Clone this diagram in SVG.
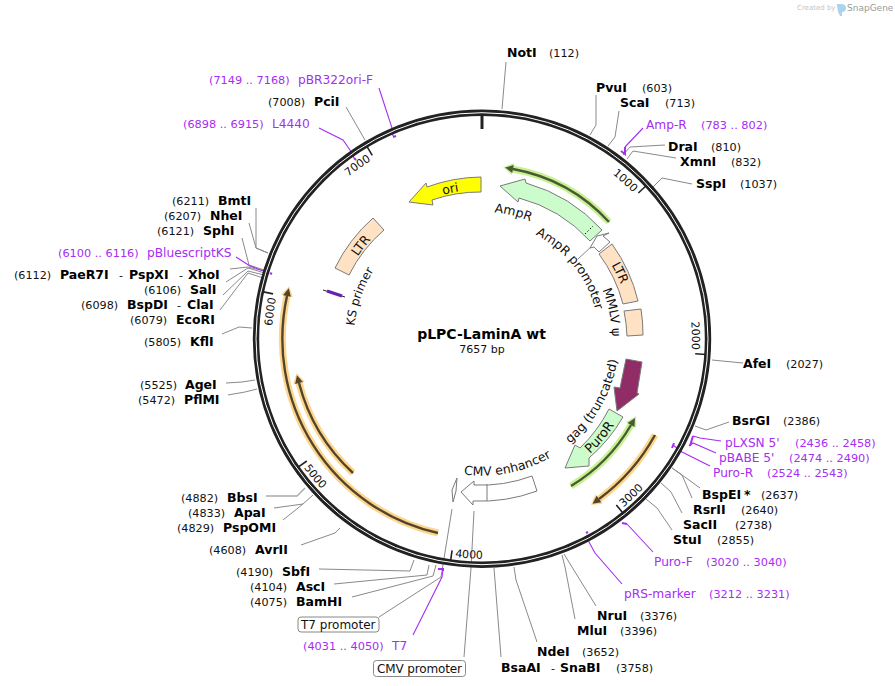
<svg xmlns="http://www.w3.org/2000/svg" width="895" height="686" viewBox="0 0 895 686">
<style>
text{font-family:"DejaVu Sans",Verdana,sans-serif;fill:#111;font-size:11.2px}
.b{font-weight:bold;font-size:12.5px;fill:#000}
.v{fill:#a62df2;font-size:11.3px}
.vn{fill:#a62df2;font-size:12.2px}
.f{font-size:12.5px}
.k{font-size:12px}
.t{font-size:11px}
.l{fill:none;stroke:#8a8a8a;stroke-width:1}
.p{fill:none;stroke:#a62df2;stroke-width:1.1}
.pb{fill:none;stroke:#a62df2;stroke-width:2}
.s{stroke:#7a7a7a;stroke-width:1}
.tk{stroke:#222;stroke-width:1.6}
.hg{fill:none;stroke:#c6f290;stroke-width:7}
.dg{fill:none;stroke:#4a5a34;stroke-width:2.4}
.ho{fill:none;stroke:#fcd68e;stroke-width:7}
.do{fill:none;stroke:#54452a;stroke-width:2.4}
</style>
<defs>
<path id="c117" d="M482,455.7A117,117 0 1 1 482,221.7A117,117 0 1 1 482,455.7"/>
<path id="c127" d="M482,465.7A127,127 0 1 1 482,211.7A127,127 0 1 1 482,465.7"/>
<path id="c128" d="M482,466.7A128,128 0 1 1 482,210.7A128,128 0 1 1 482,466.7"/>
<path id="c130" d="M482,468.7A130,130 0 1 1 482,208.7A130,130 0 1 1 482,468.7"/>
<path id="c149" d="M482,487.7A149,149 0 1 1 482,189.7A149,149 0 1 1 482,487.7"/>
<path id="c210" d="M482,548.7A210,210 0 1 1 482,128.7A210,210 0 1 1 482,548.7"/>
<path id="a137" d="M482,201.7A137,137 0 1 0 482,475.7A137,137 0 1 0 482,201.7"/>
<path id="a158" d="M482,180.7A158,158 0 1 0 482,496.7A158,158 0 1 0 482,180.7"/>
<path id="a220" d="M482,118.7A220,220 0 1 0 482,558.7A220,220 0 1 0 482,118.7"/>
<marker id="mhg" markerUnits="userSpaceOnUse" markerWidth="16" markerHeight="16" refX="3" refY="8" orient="auto"><path d="M3,2L13,8L3,14Z" fill="#c6f290"/></marker>
<marker id="mdg" markerUnits="userSpaceOnUse" markerWidth="12" markerHeight="12" refX="2" refY="6" orient="auto"><path d="M2,2L10,6L2,10Z" fill="#4a5a34"/></marker>
<marker id="mho" markerUnits="userSpaceOnUse" markerWidth="16" markerHeight="16" refX="3" refY="8" orient="auto"><path d="M3,2L13,8L3,14Z" fill="#fcd68e"/></marker>
<marker id="mdo" markerUnits="userSpaceOnUse" markerWidth="12" markerHeight="12" refX="2" refY="6" orient="auto"><path d="M2,2L10,6L2,10Z" fill="#54452a"/></marker>
</defs>
<rect width="895" height="686" fill="#fff"/>
<g id="logo"><text x="797" y="10" style="font-size:7px;fill:#c4c4c4">Created by</text><path d="M837,4h4q5,0 5,4t-4,4v4h-2q-3,-5 -3,-12z" fill="#a8d4ee"/><text x="847" y="11" style="font-size:9px;fill:#9a9a9a">SnapGene</text></g>
<g id="connectors">
<polyline class="l" points="506,62 502,109"/>
<polyline class="l" points="596,95 596,125 590,135"/>
<polyline class="l" points="619,111 615,137 608,146"/>
<polyline class="l" points="665,145 630,147 623,155"/>
<polyline class="l" points="676,158 633,151 627,159"/>
<polyline class="l" points="692,184 662,178 653,187"/>
<polyline class="l" points="743,363 712,360"/>
<polyline class="l" points="729,422 706,430 695,426"/>
<polyline class="l" points="700,488 682,475 672,468"/>
<polyline class="l" points="692,498 682,475 672,468"/>
<polyline class="l" points="682,513 671,492 661,483"/>
<polyline class="l" points="672,530 657,508 646,499"/>
<polyline class="l" points="596,606 564,554"/>
<polyline class="l" points="575,619 565,567 562,555"/>
<polyline class="l" points="537,642 516,580 514,567"/>
<polyline class="l" points="501,657 494,568"/>
<polyline class="l" points="464,657 471,568 474,511"/>
<polyline class="l" points="379,617 441,577 452,509"/>
<polyline class="l" points="352,597 433,576 436,565"/>
<polyline class="l" points="334,584 427,575 429,565"/>
<polyline class="l" points="319,569 410,571 414,560"/>
<polyline class="l" points="301,545 335,533 340,528"/>
<polyline class="l" points="283,520 303,504"/>
<polyline class="l" points="274,508 303,504 313,495"/>
<polyline class="l" points="266,496 297,496 305,488" style="stroke-width:1.4;stroke:#aaa"/>
<polyline class="l" points="228,395 245,392 257,389"/>
<polyline class="l" points="226,383 242,382 255,380"/>
<polyline class="l" points="222,334 239,327 252,328"/>
<polyline class="l" points="220,310 248,273 263,278"/>
<polyline class="l" points="223,295 248,271 268,276"/>
<polyline class="l" points="226,282 248,268 268,274"/>
<polyline class="l" points="230,269 248,267 268,272"/>
<polyline class="l" points="242,238 249,265 267,271"/>
<polyline class="l" points="249,223 256,248 268,253"/>
<polyline class="l" points="256,208 256,248 268,253"/>
<polyline class="l" points="346,107 365,140"/>
<polyline class="l" points="578,259 592,246"/>
<polyline class="p" points="643,128 625,147"/>
<polyline class="pb" points="625,147 625,154 621,151"/>
<polyline class="p" points="721,441 700,438 693,436"/>
<polyline class="pb" points="693,436 690,446"/>
<polyline class="p" points="716,453 693,443 689,446"/>
<polyline class="p" points="710,466 682,452 673,445"/>
<polyline class="pb" points="674,443 672,448"/>
<polyline class="p" points="653,552 627,524"/>
<polyline class="pb" points="627,524 622,523"/>
<polyline class="p" points="622,584 595,553 589,542 587,535"/>
<polyline class="pb" points="586,533 588,532"/>
<polyline class="p" points="413,635 442,577 443,570"/>
<polyline class="pb" points="443,571 443,569 438,569"/>
<polyline class="p" points="236,257 250,266 269,273"/>
<polyline class="pb" points="270,273 272,274"/>
<polyline class="p" points="319,128 343,140 350,150 354,158"/>
<polyline class="pb" points="354,158 356,160"/>
<polyline class="p" points="379,88 392,128 393,136"/>
<polyline class="pb" points="393,137 396,136"/>
</g>
<g id="backbone">
<circle cx="482" cy="338.7" r="226" fill="none" stroke="#222" stroke-width="6.4"/>
<circle cx="482" cy="338.7" r="226" fill="none" stroke="#fff" stroke-width="1"/>
<line x1="482" y1="116" x2="482" y2="129" stroke="#222" stroke-width="3"/>
<g class="tk">
<line x1="482" y1="114" x2="482" y2="125" transform="rotate(47.02 482 338.7)"/>
<line x1="482" y1="114" x2="482" y2="125" transform="rotate(94.03 482 338.7)"/>
<line x1="482" y1="114" x2="482" y2="125" transform="rotate(141.05 482 338.7)"/>
<line x1="482" y1="114" x2="482" y2="125" transform="rotate(188.05 482 338.7)"/>
<line x1="482" y1="114" x2="482" y2="125" transform="rotate(235.08 482 338.7)"/>
<line x1="482" y1="114" x2="482" y2="125" transform="rotate(282.1 482 338.7)"/>
<line x1="482" y1="114" x2="482" y2="125" transform="rotate(329.1 482 338.7)"/>
</g>
<text class="t" text-anchor="end" transform="rotate(46 482 338.7)"><textPath href="#c210" startOffset="50%">1000</textPath></text>
<text class="t" text-anchor="end" transform="rotate(93 482 338.7)"><textPath href="#c210" startOffset="50%">2000</textPath></text>
<text class="t" text-anchor="start" transform="rotate(-39.95 482 338.7)"><textPath href="#a220" startOffset="50%">3000</textPath></text>
<text class="t" text-anchor="start" transform="rotate(7.05 482 338.7)"><textPath href="#a220" startOffset="50%">4000</textPath></text>
<text class="t" text-anchor="start" transform="rotate(54.08 482 338.7)"><textPath href="#a220" startOffset="50%">5000</textPath></text>
<text class="t" text-anchor="end" transform="rotate(281.1 482 338.7)"><textPath href="#c210" startOffset="50%">6000</textPath></text>
<text class="t" text-anchor="end" transform="rotate(328.1 482 338.7)"><textPath href="#c210" startOffset="50%">7000</textPath></text>
</g>
<g id="primer-AmpR-arc"><path class="hg" d="M609,222A172.5,172.5 0 0 0 513,169" marker-end="url(#mhg)"/><path class="dg" d="M609,222A172.5,172.5 0 0 0 513,169" marker-end="url(#mdg)"/></g>
<g id="primer-Puro-arc"><path class="hg" d="M571,486A172.5,172.5 0 0 0 631,425" marker-end="url(#mhg)"/><path class="dg" d="M571,486A172.5,172.5 0 0 0 631,425" marker-end="url(#mdg)"/></g>
<g id="primer-orange-right"><path class="ho" d="M655,435A198,198 0 0 1 599,499" marker-end="url(#mho)"/><path class="do" d="M655,435A198,198 0 0 1 599,499" marker-end="url(#mdo)"/></g>
<g id="primer-orange-left-outer"><path class="ho" d="M438,533A199,199 0 0 1 287,296" marker-end="url(#mho)"/><path class="do" d="M438,533A199,199 0 0 1 287,296" marker-end="url(#mdo)"/></g>
<g id="primer-orange-left-inner"><path class="ho" d="M353,473A186,186 0 0 1 299,383" marker-end="url(#mho)"/><path class="do" d="M353,473A186,186 0 0 1 299,383" marker-end="url(#mdo)"/></g>
<g id="ori"><path class="s" fill="#ffff00" d="M409,202L426,183L427,187A162,162 0 0 1 481,177L481,192A147,147 0 0 0 432,200L433,205Z"/><text class="f" text-anchor="middle" transform="rotate(348 482 338.7)"><textPath href="#c149" startOffset="50%">ori</textPath></text></g>
<g id="AmpR"><path class="s" fill="#ccfccc" d="M500,186L525,179L526,183A162,162 0 0 1 602,230L590,241A146,146 0 0 0 519,198L518,202Z"/><line x1="585" y1="234" x2="593" y2="226" stroke="#111" stroke-dasharray="1.5,2"/><text class="f" text-anchor="middle" transform="rotate(14 482 338.7)"><textPath href="#c127" startOffset="50%">AmpR</textPath></text></g>
<g id="AmpR-promoter"><path class="s" fill="#fff" d="M597,236L609,233L603,236L610,242L599,252L594,247L590,248Z"/><text class="f" text-anchor="middle" transform="rotate(51.5 482 338.7)"><textPath href="#c117" startOffset="50%">AmpR promoter</textPath></text></g>
<g id="LTR-right"><path class="s" fill="#ffe2c4" d="M612,244A161,161 0 0 1 638,301L623,304A145,145 0 0 0 599,254Z"/><text class="f" text-anchor="middle" transform="rotate(64.5 482 338.7)"><textPath href="#c149" startOffset="50%">LTR</textPath></text></g>
<g id="MMLV-psi"><path class="s" fill="#ffe2c4" d="M641,309A161,161 0 0 1 643,335L627,336A145,145 0 0 0 624,311Z"/><text class="f" text-anchor="middle" transform="rotate(78.5 482 338.7)"><textPath href="#c130" startOffset="50%">MMLV ψ</textPath></text></g>
<g id="gag"><path class="s" fill="#902c66" d="M626,359L642,362L637,393L639,394L617,411L614,387L620,388Z"/><text class="f" text-anchor="middle" transform="rotate(-60.5 482 338.7)"><textPath href="#a137" startOffset="50%">gag (truncated)</textPath></text></g>
<g id="PuroR"><path class="s" fill="#ccfccc" d="M609,409A146,146 0 0 1 580,448L575,445L565,468L589,466L589,458A161,161 0 0 0 623,417Z"/><text text-anchor="middle" style="font-size:13px" transform="rotate(-50 482 338.7)"><textPath href="#a158" startOffset="50%">PuroR</textPath></text></g>
<g id="CMV-enhancer"><path class="s" fill="#fff" d="M461,492L474,481L474,485A146,146 0 0 0 532,476L537,491A162,162 0 0 1 473,501L473,505Z"/><line class="s" x1="487" y1="484" x2="487" y2="501"/><text class="f" text-anchor="middle" transform="rotate(-11.4 482 338.7)"><textPath href="#a137" startOffset="50%">CMV enhancer</textPath></text></g>
<g id="T7-promoter-feature"><path class="s" fill="#fff" d="M457,478L456,491L453,502L452,490Z"/></g>
<g id="LTR-left"><path class="s" fill="#ffe2c4" d="M335,268A162,162 0 0 1 373,218L384,230A146,146 0 0 0 349,275Z"/><text class="f" text-anchor="middle" transform="rotate(307.6 482 338.7)"><textPath href="#c149" startOffset="50%">LTR</textPath></text></g>
<g id="KS-primer"><line x1="323" y1="290" x2="345" y2="297" stroke="#222"/><line x1="327" y1="291" x2="342" y2="296" stroke="#6a1fb0" stroke-width="3"/><text class="k" text-anchor="middle" transform="rotate(289 482 338.7)"><textPath href="#c128" startOffset="50%">KS primer</textPath></text></g>
<g id="title"><text x="481.5" y="339" text-anchor="middle" style="font-weight:bold;font-size:14px;fill:#000">pLPC-LaminA wt</text><text x="482" y="353" text-anchor="middle" style="font-size:11px">7657 bp</text></g>
<g id="NotI"><text class="b" x="507" y="57">NotI</text><text x="549" y="57">(112)</text></g>
<g id="PvuI"><text class="b" x="596" y="92">PvuI</text><text x="642" y="92">(603)</text></g>
<g id="ScaI"><text class="b" x="620" y="107">ScaI</text><text x="665" y="107">(713)</text></g>
<g id="Amp-R"><text class="vn" x="646" y="129">Amp-R</text><text class="v" x="701" y="129">(783 .. 802)</text></g>
<g id="DraI"><text class="b" x="668" y="151">DraI</text><text x="711" y="151">(810)</text></g>
<g id="XmnI"><text class="b" x="680" y="166">XmnI</text><text x="731" y="166">(832)</text></g>
<g id="SspI"><text class="b" x="696" y="188">SspI</text><text x="740" y="188">(1037)</text></g>
<g id="AfeI"><text class="b" x="743" y="368">AfeI</text><text x="786" y="368">(2027)</text></g>
<g id="BsrGI"><text class="b" x="732" y="425">BsrGI</text><text x="783" y="425">(2386)</text></g>
<g id="pLXSN"><text class="vn" x="725" y="447">pLXSN 5'</text><text class="v" x="795" y="447">(2436 .. 2458)</text></g>
<g id="pBABE"><text class="vn" x="719" y="462">pBABE 5'</text><text class="v" x="789" y="462">(2474 .. 2490)</text></g>
<g id="Puro-R"><text class="vn" x="713" y="477">Puro-R</text><text class="v" x="767" y="477">(2524 .. 2543)</text></g>
<g id="BspEI"><text class="b" x="702" y="499">BspEI</text><text class="b" x="744" y="499">*</text><text x="761" y="499">(2637)</text></g>
<g id="RsrII"><text class="b" x="693" y="514">RsrII</text><text x="741" y="514">(2640)</text></g>
<g id="SacII"><text class="b" x="683" y="529">SacII</text><text x="735" y="529">(2738)</text></g>
<g id="StuI"><text class="b" x="673" y="544">StuI</text><text x="717" y="544">(2855)</text></g>
<g id="Puro-F"><text class="vn" x="654" y="566">Puro-F</text><text class="v" x="706" y="566">(3020 .. 3040)</text></g>
<g id="pRS-marker"><text class="vn" x="624" y="598">pRS-marker</text><text class="v" x="709" y="598">(3212 .. 3231)</text></g>
<g id="NruI"><text class="b" x="597" y="620">NruI</text><text x="640" y="620">(3376)</text></g>
<g id="MluI"><text class="b" x="577" y="635">MluI</text><text x="620" y="635">(3396)</text></g>
<g id="NdeI"><text class="b" x="537" y="656">NdeI</text><text x="582" y="656">(3652)</text></g>
<g id="BsaAI-SnaBI"><text class="b" x="501" y="672">BsaAI</text><text x="551" y="672">-</text><text class="b" x="560" y="672">SnaBI</text><text x="616" y="672">(3758)</text></g>
<g id="CMV-promoter"><rect x="373.5" y="660.5" width="92" height="16" rx="3" fill="#fff" stroke="#888"/><text class="k" x="377" y="672.5" textLength="85">CMV promoter</text></g>
<g id="T7"><text class="vn" x="392" y="650">T7</text><text class="v" x="303" y="650">(4031 .. 4050)</text></g>
<g id="T7-promoter"><rect x="298" y="617" width="81" height="15" rx="3" fill="#fff" stroke="#888"/><text class="k" x="301" y="628.5">T7 promoter</text></g>
<g id="BamHI"><text class="b" x="296" y="606">BamHI</text><text x="250" y="606">(4075)</text></g>
<g id="AscI"><text class="b" x="296" y="591">AscI</text><text x="250" y="591">(4104)</text></g>
<g id="SbfI"><text class="b" x="282" y="576">SbfI</text><text x="236" y="576">(4190)</text></g>
<g id="AvrII"><text class="b" x="255" y="554">AvrII</text><text x="209" y="554">(4608)</text></g>
<g id="PspOMI"><text class="b" x="223" y="532">PspOMI</text><text x="177" y="532">(4829)</text></g>
<g id="ApaI"><text class="b" x="234" y="517">ApaI</text><text x="188" y="517">(4833)</text></g>
<g id="BbsI"><text class="b" x="227" y="502">BbsI</text><text x="181" y="502">(4882)</text></g>
<g id="PflMI"><text class="b" x="184" y="404">PflMI</text><text x="138" y="404">(5472)</text></g>
<g id="AgeI"><text class="b" x="185" y="389">AgeI</text><text x="140" y="389">(5525)</text></g>
<g id="KflI"><text class="b" x="190" y="346">KflI</text><text x="144" y="346">(5805)</text></g>
<g id="EcoRI"><text class="b" x="176" y="324">EcoRI</text><text x="130" y="324">(6079)</text></g>
<g id="BspDI-ClaI"><text class="b" x="127" y="309">BspDI</text><text x="177" y="309">-</text><text class="b" x="187" y="309">ClaI</text><text x="81" y="309">(6098)</text></g>
<g id="SalI"><text class="b" x="190" y="294">SalI</text><text x="144" y="294">(6106)</text></g>
<g id="PaeR7I-PspXI-XhoI"><text class="b" x="60" y="279">PaeR7I</text><text x="119" y="279">-</text><text class="b" x="129" y="279">PspXI</text><text x="179" y="279">-</text><text class="b" x="188" y="279">XhoI</text><text x="14" y="279">(6112)</text></g>
<g id="pBluescriptKS"><text class="vn" x="147" y="257">pBluescriptKS</text><text class="v" x="58" y="257">(6100 .. 6116)</text></g>
<g id="SphI"><text class="b" x="203" y="235">SphI</text><text x="157" y="235">(6121)</text></g>
<g id="NheI"><text class="b" x="210" y="220">NheI</text><text x="164" y="220">(6207)</text></g>
<g id="BmtI"><text class="b" x="218" y="205">BmtI</text><text x="172" y="205">(6211)</text></g>
<g id="L4440"><text class="vn" x="272" y="128">L4440</text><text class="v" x="183" y="128">(6898 .. 6915)</text></g>
<g id="PciI"><text class="b" x="314" y="106">PciI</text><text x="268" y="106">(7008)</text></g>
<g id="pBR322ori-F"><text class="vn" x="298" y="84">pBR322ori-F</text><text class="v" x="209" y="84">(7149 .. 7168)</text></g>
</svg>
